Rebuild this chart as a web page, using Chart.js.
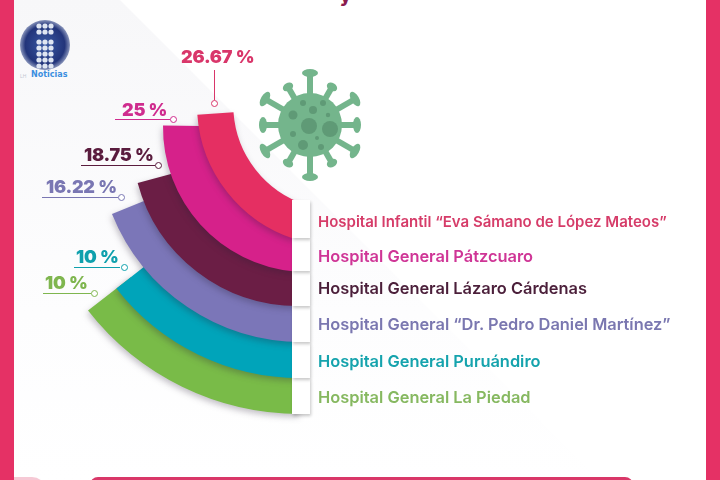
<!DOCTYPE html>
<html>
<head>
<meta charset="utf-8">
<script src="https://cdn.jsdelivr.net/npm/chart.js@4"></script>
<style>
  html, body { margin: 0; padding: 0; }
  #page { position: relative; width: 720px; height: 480px; overflow: hidden; background: #fff; font-family: Inter, sans-serif; }
  #page > * { position: absolute; }
  .ring { filter: drop-shadow(-1px 3px 3px rgba(40,30,50,.28)); }
  .bar { background: #e53165; }
  .tab { left: 292px; width: 18px; background: #fff; box-shadow: 1px 2px 3px rgba(0,0,0,.22); }
  .hospital { left: 318px; font-weight: 600; line-height: 18px; white-space: nowrap; }
  .pct { font-weight: 900; font-size: 18px; line-height: 22px; letter-spacing: -.2px; white-space: nowrap; }
  .lead { height: 1px; }
  .dot { width: 5px; height: 5px; border: 1px solid; border-radius: 50%; background: #fff; }
</style>
</head>
<body>
<div id="page">
  <svg style="left:0;top:0" width="720" height="480">
    <defs><linearGradient id="fade" x1="0" y1="0" x2="0" y2="1">
      <stop offset="0" stop-color="#f7f7f9"/><stop offset=".65" stop-color="#fdfdfe"/><stop offset="1" stop-color="#fff"/>
    </linearGradient></defs>
    <polygon points="14,0 120,0 600,480 14,480" fill="url(#fade)"/>
  </svg>
  <div class="bar" style="left:0;top:0;width:14px;height:480px"></div>
  <div class="bar" style="left:706px;top:0;width:14px;height:480px"></div>
  <div style="left:14px;top:477px;width:32px;height:14px;background:#f6c9d5;border-radius:0 30px 0 0"></div>
  <div style="left:90px;top:477px;width:543px;height:12px;background:#d93768;border-radius:8px 8px 0 0"></div>
  <div style="left:340px;top:-13px;font-size:18px;font-weight:800;color:#8a1c4f;line-height:18px">y</div>

  <!-- logo -->
  <svg id="logo" style="left:18px;top:18px" width="56" height="64">
    <defs><radialGradient id="ball" cx=".5" cy=".5" r=".55">
      <stop offset="0" stop-color="#3a5aa4"/><stop offset=".72" stop-color="#22347a"/><stop offset="1" stop-color="#b9c2da"/>
    </radialGradient></defs>
    <circle cx="27" cy="27" r="25" fill="url(#ball)"/>
  </svg>
  <div style="left:31px;top:70px;font:800 8px/10px 'DejaVu Sans',sans-serif;color:#3b8fe0">Noticias</div>
  <div style="left:20px;top:72px;font:400 5px/8px sans-serif;color:#c4c8d4">LH</div>

  <svg id="virus" style="left:250px;top:60px" width="120" height="130"></svg>
</div>

<script>
// values, top band first
var hospitals = [
  'Hospital Infantil “Eva Sámano de López Mateos”',
  'Hospital General Pátzcuaro',
  'Hospital General Lázaro Cárdenas',
  'Hospital General “Dr. Pedro Daniel Martínez”',
  'Hospital General Puruándiro',
  'Hospital General La Piedad'
];
var percents = [26.67, 25, 18.75, 16.22, 10, 10];

var bandColors = ['#e52f62', '#d6218a', '#6b1e45', '#7b76b8', '#00a4ba', '#79bb48'];
var nameColors = ['#d63c69', '#cf3596', '#4b1f3a', '#7a77b0', '#15a3ad', '#86b860'];
var pctColors = ['#d9366a', '#cf2c8e', '#5a1c3e', '#7a77b3', '#0fa0ad', '#7fb64f'];

// the bands in the picture are not concentric, each one has its own centre
var centerX = [338, 307.5, 297.5, 302, 300, 300];
var centerY = [105, 127, 140, 137, 145, 145];
var outerR = [141, 144.5, 166, 205, 233, 269];
var innerR = [105.5, 90, 115, 150, 180, 215]; // inner edges below the red one stay hidden
var startDeg = [18, 5, 0, 0, 0, 0]; // clockwise from straight down
var degPerPct = [2.55, 3.43, 4, 4.19, 5.2, 5.2]; // the sweep isn't proportional across bands

// legend + label placement
var nameY = [221.5, 255.5, 288, 323.5, 361, 396.5];
var nameSize = [15, 16.4, 16.4, 16.4, 16.4, 16.4];
var tabY = [200, 238, 271, 306, 342, 378, 414];
var pctX = [181, 122, 84, 46, 76, 45];
var pctY = [46, 99, 144, 176, 246, 272];
var leadX = [214, 115, 81, 42, 74, 43];
var leadY = [70, 119, 165, 197, 267, 293];
var leadLen = [30, 55, 74, 76, 46, 48];
var dotX = [214.5, 173.5, 158, 121, 124, 94];
var dotY = [103, 119, 165, 197, 267, 293];

var page = document.getElementById('page');

function addDiv(cls, left, top, text, color) {
  var d = document.createElement('div');
  d.className = cls;
  d.style.left = left + 'px';
  d.style.top = top + 'px';
  if (text) d.textContent = text;
  if (color) d.style.color = color;
  page.appendChild(d);
  return d;
}

// lowest band first, the red one sits on top
for (let i = percents.length - 1; i >= 0; i--) {
  let size = Math.ceil(outerR[i] * 2 + 2);
  let c = document.createElement('canvas');
  c.className = 'ring';
  c.width = size;
  c.height = size;
  c.style.left = (centerX[i] - size / 2) + 'px';
  c.style.top = (centerY[i] - size / 2) + 'px';
  page.appendChild(c);

  new Chart(c, {
    type: 'doughnut',
    data: {
      labels: [hospitals[i], ''],
      datasets: [{
        data: [percents[i], 360 / degPerPct[i] - percents[i]],
        backgroundColor: [bandColors[i], 'rgba(0,0,0,0)'],
        borderWidth: 0
      }]
    },
    options: {
      responsive: false,
      animation: false,
      rotation: 180 + startDeg[i],
      radius: outerR[i],
      cutout: innerR[i],
      plugins: { legend: { display: false }, tooltip: { enabled: false } }
    }
  });
}

// white tabs over the flat end of the bands, bottom up so each shadow falls on the next
for (let i = hospitals.length - 1; i >= 0; i--) {
  let tab = addDiv('tab', 292, tabY[i]);
  tab.style.height = (tabY[i + 1] - tabY[i]) + 'px';
}

for (let i = 0; i < hospitals.length; i++) {
  let name = addDiv('hospital', 318, nameY[i] - 9, hospitals[i], nameColors[i]);
  name.style.fontSize = nameSize[i] + 'px';
  addDiv('pct', pctX[i], pctY[i], percents[i] + ' %', pctColors[i]);

  let lead = addDiv('lead', leadX[i], leadY[i]);
  lead.style.background = pctColors[i];
  if (i == 0) { lead.style.width = '1px'; lead.style.height = leadLen[i] + 'px'; }
  else lead.style.width = leadLen[i] + 'px';
  let dot = addDiv('dot', dotX[i] - 3.5, dotY[i] - 3.5);
  dot.style.borderColor = pctColors[i];
}

// virus icon
var svgNS = 'http://www.w3.org/2000/svg';
function svgAdd(parent, tag, attrs) {
  var el = document.createElementNS(svgNS, tag);
  for (var k in attrs) el.setAttribute(k, attrs[k]);
  parent.appendChild(el);
}
var virus = document.getElementById('virus');
var vx = 60, vy = 65, green = '#74b58c', darkGreen = '#5f9a76';
for (let a = 0; a < 12; a++) {
  let t = a * Math.PI / 6;
  let s = Math.sin(t), k = Math.cos(t);
  let big = a % 3 != 1 && a % 3 != 2 || a == 2 || a == 4 || a == 8 || a == 10;
  let len = a % 6 == 1 || a % 6 == 5 ? 44 : (a % 6 == 3 ? 47 : 52);
  svgAdd(virus, 'line', { x1: vx, y1: vy, x2: vx + s * len, y2: vy - k * len, stroke: green, 'stroke-width': 6 });
  svgAdd(virus, 'ellipse', {
    cx: vx + s * len, cy: vy - k * len, rx: big ? 8 : 5.5, ry: 4, fill: green,
    transform: 'rotate(' + (a * 30) + ' ' + (vx + s * len) + ' ' + (vy - k * len) + ')'
  });
}
svgAdd(virus, 'circle', { cx: vx, cy: vy, r: 32, fill: green });
var spots = [[-1, 1, 8], [20, 4, 8], [-17, -10, 4.5], [3, -15, 4], [-17, 9, 3], [-7, 20, 5], [11, 22, 3], [-7, -22, 3], [13, -22, 3], [18, -10, 2.2], [7, 13, 2]];
spots.forEach(function (p) {
  svgAdd(virus, 'circle', { cx: vx + p[0], cy: vy + p[1], r: p[2], fill: darkGreen });
});

// logo dots
var logo = document.getElementById('logo');
[[0, 0], [1, 0], [2, 0], [0, 1], [1, 1], [2, 1]].forEach(function (p) {
  svgAdd(logo, 'circle', { cx: 21 + p[0] * 6, cy: 8 + p[1] * 6, r: 2.6, fill: '#dfe6f2' });
});
for (let r = 0; r < 5; r++) for (let q = 0; q < 3; q++) {
  svgAdd(logo, 'circle', { cx: 21 + q * 6, cy: 24 + r * 6, r: 2.6, fill: '#dfe6f2' });
}
</script>
</body>
</html>
